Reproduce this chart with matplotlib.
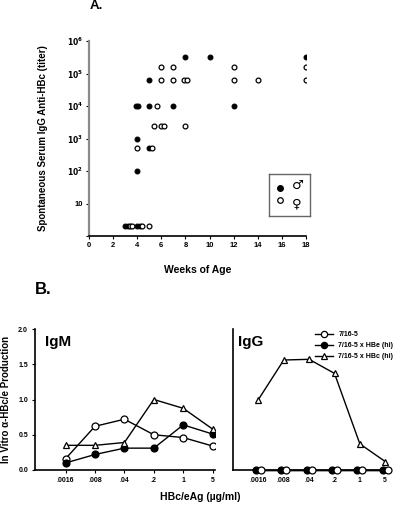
import numpy as np
import matplotlib
matplotlib.use('Agg')
import matplotlib.pyplot as plt

plt.rcParams['font.family'] = ['Liberation Sans', 'DejaVu Sans']
plt.rcParams['font.weight'] = 'bold'
plt.rcParams['mathtext.default'] = 'bf'

# panel A: titers by age (undetectable plotted at 2)
male_weeks = [3.0, 3.2, 4.0, 4.2, 4.0, 4.0, 4.95, 3.9, 4.1, 5.0, 7.0, 12, 5.0, 8, 10, 18]
male_titer = [2, 2, 2, 2, 100, 1000, 500, 1e4, 1e4, 1e4, 1e4, 1e4, 6.25e4, 3.125e5, 3.125e5, 3.125e5]
female_weeks = [3.4, 3.6, 4.4, 5.0, 4.0, 5.2, 5.4, 6.0, 6.2, 8, 5.6,
                6, 7, 7.9, 8.1, 12, 14, 18, 6, 7, 12, 18]
female_titer = [2, 2, 2, 2, 500, 500, 2500, 2500, 2500, 2500, 1e4,
                6.25e4, 6.25e4, 6.25e4, 6.25e4, 6.25e4, 6.25e4, 6.25e4,
                1.5625e5, 1.5625e5, 1.5625e5, 1.5625e5]

# panel B: in vitro production
conc = ['.0016', '.008', '.04', '.2', '1', '5']
igm_7165 = [0.16, 0.62, 0.72, 0.50, 0.46, 0.34]
igm_hbe = [0.10, 0.22, 0.31, 0.31, 0.64, 0.51]
igm_hbc = [0.35, 0.35, 0.39, 1.00, 0.875, 0.58]
igg_7165 = [0, 0, 0, 0, 0, 0]
igg_hbe = [0, 0, 0, 0, 0, 0]
igg_hbc = [1.00, 1.56, 1.57, 1.37, 0.37, 0.12]

fig = plt.figure(figsize=(4, 5.07), dpi=100)

# ---- A ----
ax = fig.add_axes([0.2225, 0.5345, 0.5425, 0.3846])
ax.scatter(male_weeks, male_titer, s=12, c='black', edgecolors='black', linewidths=0.8, zorder=3)
ax.scatter(female_weeks, female_titer, s=12, c='white', edgecolors='black', linewidths=0.9, zorder=3)
ax.set_yscale('log')
ax.set_ylim(1, 1e6)
ax.set_xlim(0, 18)
ax.set_xticks(range(0, 19, 2))
ax.set_yticks([1, 10, 1e2, 1e3, 1e4, 1e5, 1e6])
ax.set_yticklabels(['', '10', r'$10^2$', r'$10^3$', r'$10^4$', r'$10^5$', r'$10^6$'])
ax.minorticks_off()
ax.tick_params(labelsize=5.5, length=2.5, width=0.8, pad=2)
for s in ['top', 'right']:
    ax.spines[s].set_visible(False)
ax.spines['left'].set_color('#8a8a8a')
ax.spines['left'].set_linewidth(1.6)
ax.spines['bottom'].set_linewidth(1.2)
ax.set_xlabel('Weeks of Age', fontsize=7.5, fontweight='bold')
ax.xaxis.set_label_coords(0.5, -0.15)
ax.set_ylabel('Spontaneous Serum IgG Anti-HBc (titer)', fontsize=7, fontweight='bold')
ax.yaxis.set_label_coords(-0.19, 0.5)

# sex legend box
lax = fig.add_axes([269/400, 1 - 216/507, 41/400, 42/507])
lax.set_xlim(0, 1)
lax.set_ylim(0, 1)
lax.set_xticks([])
lax.set_yticks([])
for s in lax.spines.values():
    s.set_color('#666666')
    s.set_linewidth(1.0)
lax.plot([0.27], [0.67], 'o', ms=4, mfc='black', mec='black')
lax.plot([0.27], [0.37], 'o', ms=4, mfc='white', mec='black', mew=0.9)
lax.text(0.55, 0.72, '\u2642', fontsize=9.5, ha='left', va='center', family='DejaVu Sans', fontweight='normal')
lax.text(0.55, 0.28, '\u2640', fontsize=9.5, ha='left', va='center', family='DejaVu Sans', fontweight='normal')

fig.text(90/400, 1 - 6/507, 'A.', fontsize=9.5, fontweight='bold', va='center')
fig.text(35/400, 1 - 290/507, 'B.', fontsize=12, fontweight='bold', va='center')

# ---- B ----
x = np.arange(len(conc))
bot, h = 1 - 470/507, (470 - 329)/507
axm = fig.add_axes([35/400, bot, 180/400, h])
axg = fig.add_axes([233.3/400, bot, 157/400, h])

mk = dict(ms=5, mec='black', mew=0.9, color='black', lw=1.0)
axm.plot(x, igm_7165, 'o-', mfc='white', zorder=3, **mk)
axm.plot(x, igm_hbe, 'o-', mfc='black', zorder=3, **mk)
axm.plot(x, igm_hbc, '^-', mfc='white', zorder=3, **mk)
axm.set_xlim(-1.04, 5.08)
axm.set_ylim(0, 2.0)
axm.set_yticks([0, 0.5, 1.0, 1.5, 2.0])
axm.set_yticklabels(['0.0', '0.5', '1.0', '1.5', '2.0'])
axm.text(-0.7, 1.82, 'IgM', fontsize=11, fontweight='bold', va='center')
axm.set_ylabel('In Vitro \u03b1-HBc/e Production', fontsize=7, fontweight='bold')
axm.yaxis.set_label_coords(-0.135, 0.5)

l1, = axg.plot(x + 0.1, igg_7165, 'o-', mfc='white', zorder=4, clip_on=False, **mk)
l2, = axg.plot(x - 0.1, igg_hbe, 'o-', mfc='black', zorder=3, clip_on=False, **mk)
l3, = axg.plot(x, igg_hbc, '^-', mfc='white', zorder=3, **mk)
axg.set_xlim(-0.99, 5.2)
axg.set_ylim(0, 2.0)
axg.set_yticks([])
axg.text(-0.8, 1.82, 'IgG', fontsize=11, fontweight='bold', va='center')
axg.legend([l1, l2, l3], ['7/16-5', '7/16-5 x HBe (hi)', '7/16-5 x HBc (hi)'],
           loc='upper right', bbox_to_anchor=(1.06, 1.03), frameon=False, fontsize=5,
           handlelength=2.6, labelspacing=0.6, markerscale=0.9)

for a in (axm, axg):
    a.set_xticks(x)
    a.set_xticklabels(conc)
    a.tick_params(labelsize=5, length=2, width=0.8, pad=3)
    for s in ['top', 'right']:
        a.spines[s].set_visible(False)
    a.spines['left'].set_linewidth(1.2)
    a.spines['bottom'].set_linewidth(1.2)

fig.text(200/400, 1 - 497/507, 'HBc/eAg (\u00b5g/ml)', fontsize=7.5, fontweight='bold', ha='center', va='center')

fig.savefig('out.png', dpi=100)
